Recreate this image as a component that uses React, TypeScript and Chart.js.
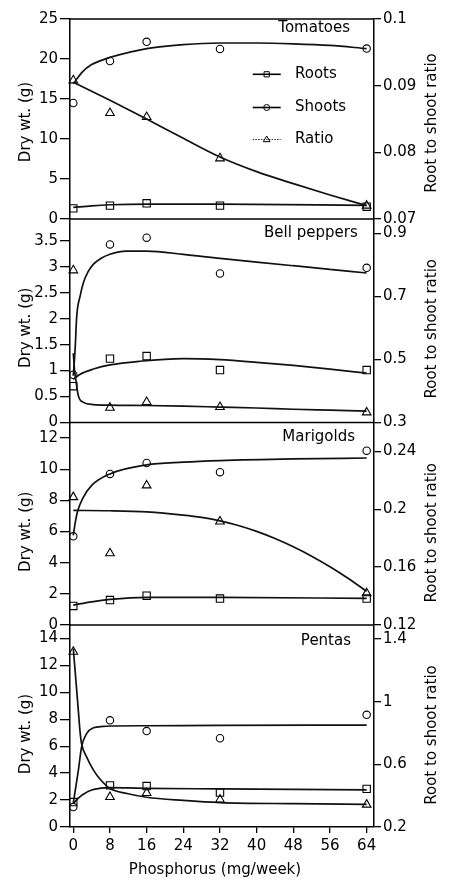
import React, { useEffect, useRef } from 'react';
import { Chart, registerables } from 'chart.js';

Chart.register(...registerables);

// ---------- data ----------
const phosphorus = [0, 8, 16, 32, 64];
const xTicks = [0, 8, 16, 24, 32, 40, 48, 56, 64];
const panelNames = ['Tomatoes', 'Bell peppers', 'Marigolds', 'Pentas'];
const legendLabels = ['Roots', 'Shoots', 'Ratio'];
const leftTitle = 'Dry wt. (g)';
const rightTitle = 'Root to shoot ratio';
const xTitle = 'Phosphorus (mg/week)';

// Tomatoes
const tomRoots = [1.33, 1.67, 1.96, 1.67, 1.54];
const tomShoots = [14.5, 19.75, 22.15, 21.25, 21.3];
const tomRatio = [0.0908, 0.0859, 0.0853, 0.0791, 0.072];
const tomRootFitX = [0, 4, 8, 16, 32, 64];
const tomRootFitY = [1.45, 1.65, 1.78, 1.87, 1.87, 1.7];
const tomShootFitX = [0, 2, 4, 6, 8, 16, 24, 32, 40, 48, 56, 64];
const tomShootFitY = [16.9, 18.4, 19.3, 19.8, 20.2, 21.3, 21.8, 22.0, 22.0, 21.9, 21.7, 21.3];
const tomRatioFitX = [0, 8, 16, 24, 32, 40, 48, 56, 64];
const tomRatioFitY = [0.0905, 0.0878, 0.085, 0.0821, 0.0793, 0.0771, 0.0753, 0.0736, 0.072];
const tomLeftTicks = [0, 5, 10, 15, 20, 25];
const tomRightTicks = [0.07, 0.08, 0.09, 0.1];

// Bell peppers
const bellRoots = [0.7, 1.23, 1.28, 1.01, 1.01];
const bellShoots = [0.92, 3.43, 3.56, 2.87, 2.98];
const bellRatio = [0.783, 0.347, 0.365, 0.349, 0.332];
const bellRootFitX = [0, 1.5, 4.4, 8, 14.5, 24, 32, 40, 48, 56, 64];
const bellRootFitY = [0.83, 0.93, 1.03, 1.11, 1.18, 1.23, 1.21, 1.16, 1.1, 1.03, 0.95];
const bellShootFitX = [0, 0.4, 0.75, 1.5, 2.2, 3.2, 4.4, 6, 8, 11.6, 16, 24, 32, 40, 48, 56, 64];
const bellShootFitY = [0.9, 1.42, 2.05, 2.44, 2.69, 2.9, 3.05, 3.16, 3.24, 3.3, 3.3, 3.24, 3.16, 3.09, 3.02, 2.95, 2.88];
const bellRatioFitX = [0, 0.25, 0.6, 1.1, 2.2, 4.4, 8, 16, 24, 32, 40, 48, 56, 64];
const bellRatioFitY = [0.52, 0.47, 0.43, 0.385, 0.364, 0.357, 0.355, 0.354, 0.352, 0.349, 0.346, 0.342, 0.339, 0.336];
const bellLeftTicks = [0, 0.5, 1, 1.5, 2, 2.5, 3, 3.5];
const bellRightTicks = [0.3, 0.5, 0.7, 0.9];

// Marigolds
const mariRoots = [1.22, 1.6, 1.88, 1.7, 1.7];
const mariShoots = [5.69, 9.7, 10.4, 9.81, 11.19];
const mariRatio = [0.2084, 0.1696, 0.2165, 0.1916, 0.142];
const mariRootFitX = [0, 4, 8, 16, 32, 64];
const mariRootFitY = [1.28, 1.49, 1.64, 1.77, 1.77, 1.71];
const mariShootFitX = [0, 0.5, 1, 2, 4, 8, 16, 24, 32, 48, 64];
const mariShootFitY = [5.76, 6.7, 7.36, 8.1, 8.96, 9.7, 10.28, 10.45, 10.55, 10.66, 10.72];
const mariRatioFitX = [0, 8, 16, 24, 28, 32, 36, 40, 44, 48, 52, 56, 60, 64];
const mariRatioFitY = [0.1992, 0.199, 0.1982, 0.196, 0.1944, 0.192, 0.1888, 0.1847, 0.1798, 0.1741, 0.1676, 0.1603, 0.1522, 0.1433];
const mariLeftTicks = [0, 2, 4, 6, 8, 10, 12];
const mariRightTicks = [0.12, 0.16, 0.2, 0.24];

// Pentas
const penRoots = [1.85, 3.09, 3.04, 2.56, 2.83];
const penShoots = [1.48, 7.92, 7.12, 6.59, 8.33];
const penRatio = [1.319, 0.392, 0.417, 0.375, 0.343];
const penRootFitX = [0, 1, 2, 4, 6, 8, 12, 16, 32, 64];
const penRootFitY = [1.75, 2.1, 2.4, 2.75, 2.88, 2.92, 2.9, 2.87, 2.83, 2.75];
const penShootFitX = [0, 1.1, 1.8, 2.9, 4.4, 6.5, 8, 16, 32, 64];
const penShootFitY = [1.8, 4.2, 5.93, 6.93, 7.37, 7.47, 7.5, 7.52, 7.55, 7.57];
const penRatioFitX = [0, 0.5, 1, 1.5, 1.8, 2.9, 4.4, 6, 8, 11.7, 16, 24, 32, 48, 64];
const penRatioFitY = [1.34, 1.16, 0.98, 0.8, 0.733, 0.648, 0.563, 0.5, 0.446, 0.414, 0.39, 0.37, 0.356, 0.349, 0.345];
const penLeftTicks = [0, 2, 4, 6, 8, 10, 12, 14];
const penRightTicks = [0.2, 0.6, 1, 1.4];

const leftMax = [25, 3.92, 13, 15];
const rightMin = [0.07, 0.3, 0.12, 0.2];
const rightMax = [0.1, 0.946, 0.26, 1.49];

// ---------- layout / style ----------
const W = 451;
const H = 880;
const FONT = 'DejaVu Sans';
const X_MIN = -0.72;
const X_MAX = 65.6;
const panelWeights = [200, 203.5, 202.5, 202];
const leftTitleShift = [3, 7, 8, 8];
const rightTitleShift = [4, 8, 9, 9];
const nameRightInset = [24, 16.3, 19, 23];
const nameBaseline = [13.3, 17.7, 18, 19.6];

const panels = [
  { roots: tomRoots, shoots: tomShoots, ratio: tomRatio, rfx: tomRootFitX, rfy: tomRootFitY, sfx: tomShootFitX, sfy: tomShootFitY, qfx: tomRatioFitX, qfy: tomRatioFitY, lt: tomLeftTicks, rt: tomRightTicks },
  { roots: bellRoots, shoots: bellShoots, ratio: bellRatio, rfx: bellRootFitX, rfy: bellRootFitY, sfx: bellShootFitX, sfy: bellShootFitY, qfx: bellRatioFitX, qfy: bellRatioFitY, lt: bellLeftTicks, rt: bellRightTicks },
  { roots: mariRoots, shoots: mariShoots, ratio: mariRatio, rfx: mariRootFitX, rfy: mariRootFitY, sfx: mariShootFitX, sfy: mariShootFitY, qfx: mariRatioFitX, qfy: mariRatioFitY, lt: mariLeftTicks, rt: mariRightTicks },
  { roots: penRoots, shoots: penShoots, ratio: penRatio, rfx: penRootFitX, rfy: penRootFitY, sfx: penShootFitX, sfy: penShootFitY, qfx: penRatioFitX, qfy: penRatioFitY, lt: penLeftTicks, rt: penRightTicks },
];

const pts = (xs: number[], ys: number[]) => xs.map((x, i) => ({ x, y: ys[i] }));

function markerSet(data: any, yAxisID: string, style: string, radius: number) {
  return {
    data,
    yAxisID,
    showLine: false,
    pointStyle: style,
    pointRadius: radius,
    pointBorderWidth: 1.1,
    pointBorderColor: '#000',
    pointBackgroundColor: 'rgba(0,0,0,0)',
    clip: false,
  };
}

function curveSet(data: any, yAxisID: string) {
  return {
    data,
    yAxisID,
    showLine: true,
    borderColor: '#111',
    borderWidth: 1.7,
    pointRadius: 0,
    cubicInterpolationMode: 'monotone',
    fill: false,
    clip: false,
  };
}

const fmt = (v: any) => String(Number(Number(v).toFixed(4)));

function axisTicksFrom(arr: number[]) {
  return (s: any) => {
    s.ticks = arr.map((v) => ({ value: v }));
  };
}

const textPlugin = {
  id: 'panelTexts',
  afterDraw(chart: any) {
    const ctx = chart.ctx;
    const a = chart.chartArea;
    ctx.save();
    // panel separators and top frame
    ctx.strokeStyle = '#000';
    ctx.lineWidth = 1.5;
    for (let i = 0; i < 4; i++) {
      const s = chart.scales['L' + (i + 1)];
      ctx.beginPath();
      ctx.moveTo(a.left, s.top);
      ctx.lineTo(a.right, s.top);
      ctx.stroke();
    }
    ctx.fillStyle = '#000';
    ctx.font = `15px "${FONT}"`;
    for (let i = 0; i < 4; i++) {
      const s = chart.scales['L' + (i + 1)];
      // panel name
      ctx.textAlign = 'right';
      ctx.textBaseline = 'alphabetic';
      ctx.fillText(panelNames[i], a.right - nameRightInset[i], s.top + nameBaseline[i]);
      // y titles
      const mid = (s.top + s.bottom) / 2;
      const rot = (t: string, x: number, y: number) => {
        ctx.save();
        ctx.translate(x, y);
        ctx.rotate(-Math.PI / 2);
        ctx.textAlign = 'center';
        ctx.textBaseline = 'middle';
        ctx.fillText(t, 0, 0);
        ctx.restore();
      };
      rot(leftTitle, 26, mid + leftTitleShift[i]);
      rot(rightTitle, 432, mid + rightTitleShift[i]);
    }
    // x title
    ctx.textAlign = 'center';
    ctx.textBaseline = 'alphabetic';
    ctx.fillText(xTitle, 215, 874);

    // legend
    const lx1 = a.left + 182.7;
    const lx2 = a.left + 210.7;
    const mx = (lx1 + lx2) / 2;
    const tx = a.left + 225;
    const rows = [a.top + 55.3, a.top + 88.5, a.top + 120.5];
    for (let k = 0; k < 3; k++) {
      const y = rows[k];
      ctx.save();
      ctx.strokeStyle = k === 2 ? '#333' : '#000';
      ctx.lineWidth = k === 2 ? 1.1 : 1.6;
      if (k === 2) ctx.setLineDash([1.5, 1.2]);
      ctx.beginPath();
      ctx.moveTo(lx1, y);
      ctx.lineTo(lx2, y);
      ctx.stroke();
      ctx.setLineDash([]);
      ctx.lineWidth = 1;
      ctx.strokeStyle = '#000';
      ctx.beginPath();
      if (k === 0) {
        ctx.rect(mx - 2.6, y - 2.6, 5.2, 5.2);
      } else if (k === 1) {
        ctx.arc(mx, y, 3, 0, Math.PI * 2);
      } else {
        ctx.moveTo(mx, y - 3.5);
        ctx.lineTo(mx + 3.4, y + 2.2);
        ctx.lineTo(mx - 3.4, y + 2.2);
        ctx.closePath();
      }
      ctx.stroke();
      ctx.restore();
      ctx.textAlign = 'left';
      ctx.textBaseline = 'middle';
      ctx.fillText(legendLabels[k], tx, y);
    }
    ctx.restore();
  },
};

export default function App() {
  const ref = useRef<HTMLCanvasElement | null>(null);

  useEffect(() => {
    if (!ref.current) return;
    const datasets: any[] = [];
    panels.forEach((p, i) => {
      const L = 'L' + (i + 1);
      const R = 'R' + (i + 1);
      datasets.push(curveSet(pts(p.rfx, p.rfy), L));
      datasets.push(curveSet(pts(p.sfx, p.sfy), L));
      datasets.push(curveSet(pts(p.qfx, p.qfy), R));
      datasets.push(markerSet(pts(phosphorus, p.roots), L, 'rect', 5.2));
      datasets.push(markerSet(pts(phosphorus, p.shoots), L, 'circle', 3.7));
      datasets.push(markerSet(pts(phosphorus, p.ratio), R, 'triangle', 5));
    });

    const tickFont = { family: FONT, size: 15 };
    const scales: any = {
      x: {
        type: 'linear',
        position: 'bottom',
        min: X_MIN,
        max: X_MAX,
        afterBuildTicks: axisTicksFrom(xTicks),
        afterFit: (s: any) => {
          s.height = 53;
        },
        grid: { display: true, drawOnChartArea: false, drawTicks: true, tickLength: 6, color: '#000', lineWidth: 1.3 },
        border: { display: true, color: '#000', width: 1.5 },
        ticks: { color: '#000', font: tickFont, padding: 4, maxRotation: 0, autoSkip: false, callback: fmt },
      },
    };
    for (let i = 3; i >= 0; i--) {
      scales['L' + (i + 1)] = {
        type: 'linear',
        axis: 'y',
        position: 'left',
        stack: 'panels',
        stackWeight: panelWeights[i],
        min: 0,
        max: leftMax[i],
        afterBuildTicks: axisTicksFrom(panels[i].lt),
        afterFit: (s: any) => {
          s.width = 70;
        },
        grid: { display: true, drawOnChartArea: false, drawTicks: true, tickLength: 10, color: '#000', lineWidth: 1.3 },
        border: { display: true, color: '#000', width: 1.5 },
        ticks: { color: '#000', font: tickFont, padding: 2, autoSkip: false, callback: fmt },
      };
    }
    for (let i = 0; i < 4; i++) {
      scales['R' + (i + 1)] = {
        type: 'linear',
        axis: 'y',
        position: 'right',
        stack: 'panels',
        stackWeight: panelWeights[i],
        min: rightMin[i],
        max: rightMax[i],
        afterBuildTicks: axisTicksFrom(panels[i].rt),
        afterFit: (s: any) => {
          s.width = W - 374;
        },
        grid: { display: true, drawOnChartArea: false, drawTicks: true, tickLength: 7, color: '#000', lineWidth: 1.3 },
        border: { display: true, color: '#000', width: 1.5 },
        ticks: { color: '#000', font: tickFont, padding: 2, autoSkip: false, callback: fmt },
      };
    }

    const chart = new Chart(ref.current, {
      type: 'scatter',
      data: { datasets },
      options: {
        responsive: false,
        maintainAspectRatio: false,
        devicePixelRatio: 1,
        animation: false,
        events: [],
        layout: { padding: { top: 19, left: 0, right: 0, bottom: 0 } },
        plugins: { legend: { display: false }, tooltip: { enabled: false }, title: { display: false } },
        scales,
      } as any,
      plugins: [textPlugin],
    } as any);
    return () => chart.destroy();
  }, []);

  return (
    <div style={{ position: 'absolute', left: 0, top: 0, width: W, height: H, background: '#fff' }}>
      <canvas ref={ref} width={W} height={H} style={{ display: 'block', width: W, height: H }} />
    </div>
  );
}
